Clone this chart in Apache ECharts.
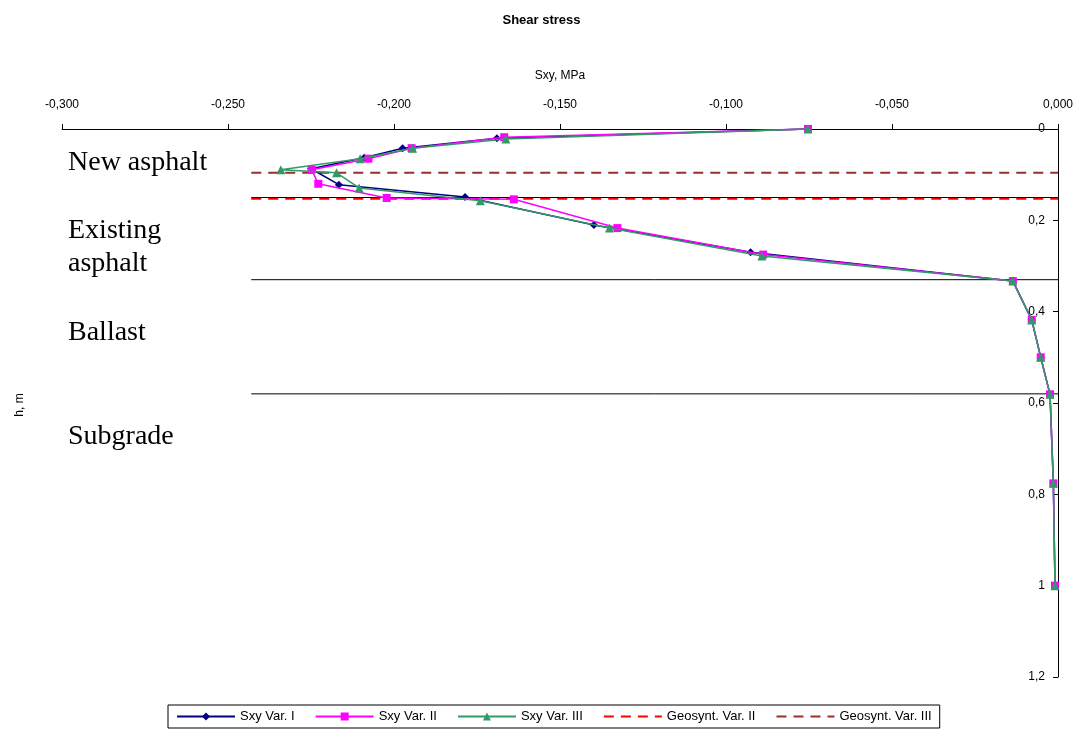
<!DOCTYPE html>
<html>
<head>
<meta charset="utf-8">
<script src="https://cdn.jsdelivr.net/npm/echarts@6/dist/echarts.min.js"></script>
<style>
  html, body { margin: 0; padding: 0; background: #fff; }
  #chart { width: 1083px; height: 732px; }
</style>
</head>
<body>
<div id="chart"></div>
<script>
// Depth below surface (m) and shear stress Sxy (MPa) for each variant
const depthVarI   = [0, 0.020, 0.042, 0.063, 0.087, 0.122, 0.149, 0.210, 0.270, 0.333, 0.418, 0.500, 0.581, 0.776, 1.000];
const stressVarI  = [-0.0753, -0.1690, -0.1974, -0.2090, -0.2250, -0.2166, -0.1786, -0.1398, -0.0926, -0.0136, -0.0079, -0.0052, -0.0024, -0.0014, -0.0009];

const depthVarII  = [0, 0.018, 0.042, 0.065, 0.089, 0.120, 0.151, 0.154, 0.217, 0.275, 0.333, 0.418, 0.500, 0.581, 0.776, 1.000];
const stressVarII = [-0.0753, -0.1668, -0.1947, -0.2077, -0.2248, -0.2228, -0.2022, -0.1639, -0.1327, -0.0888, -0.0136, -0.0079, -0.0052, -0.0024, -0.0014, -0.0009];

const depthVarIII  = [0, 0.022, 0.042, 0.065, 0.089, 0.096, 0.129, 0.157, 0.217, 0.278, 0.333, 0.418, 0.500, 0.581, 0.776, 1.000];
const stressVarIII = [-0.0753, -0.1663, -0.1944, -0.2102, -0.2341, -0.2173, -0.2105, -0.1740, -0.1351, -0.0892, -0.0136, -0.0079, -0.0052, -0.0024, -0.0014, -0.0009];

// Geosynthetic positions (m) and layer boundaries (m)
const geosyntVarII  = 0.153;
const geosyntVarIII = 0.096;
const layerBounds   = [0.15, 0.33, 0.58];
const lineSpan      = [-0.243, 0];  // horizontal extent of the reference lines (MPa)

// Layer captions and the pixel row each caption is centred on
const layerNames = ['New asphalt', 'Existing', 'asphalt', 'Ballast', 'Subgrade'];
const layerTextY = [159, 227, 260, 329, 433];

const seriesNames = ['Sxy Var. I', 'Sxy Var. II', 'Sxy Var. III', 'Geosynt. Var. II', 'Geosynt. Var. III'];

const pairs = (xs, hs) => hs.map((h, i) => [xs[i], h]);
const hLine = (h) => [[lineSpan[0], h], [lineSpan[1], h]];

const chart = echarts.init(document.getElementById('chart'));

const sansFont = 'Liberation Sans, Arial, sans-serif';

const layerSeries = layerBounds.map((h, i) => ({
  name: 'layer' + i,
  type: 'line',
  data: hLine(h),
  symbol: 'none',
  lineStyle: { color: '#000', width: 1 },
  z: 1,
  silent: true
}));

const option = {
  animation: false,
  backgroundColor: '#fff',
  title: {
    text: 'Shear stress',
    left: 'center',
    top: 9,
    textStyle: { fontFamily: sansFont, fontSize: 13, fontWeight: 'bold', color: '#000' }
  },
  grid: { left: 62, right: 25, top: 129, bottom: 55 },
  legend: {
    // dashed entries show only their line, no marker
    data: seriesNames.map((n, i) => i < 3 ? n : { name: n, itemStyle: { opacity: 0 } }),
    left: 168,
    top: 705,
    itemWidth: 58,
    itemHeight: 10,
    itemGap: 20,
    padding: [5, 8],
    borderColor: '#000',
    borderWidth: 1,
    textStyle: { fontFamily: sansFont, fontSize: 13, color: '#000' }
  },
  xAxis: {
    type: 'value',
    position: 'top',
    min: -0.3,
    max: 0,
    interval: 0.05,
    name: 'Sxy, MPa',
    nameLocation: 'middle',
    nameGap: 47,
    nameTextStyle: { fontFamily: sansFont, fontSize: 12, color: '#000' },
    axisLine: { show: true, onZero: false, lineStyle: { color: '#000', width: 1 } },
    axisTick: { show: true, length: 5, lineStyle: { color: '#000' } },
    axisLabel: {
      margin: 18,
      fontFamily: sansFont,
      fontSize: 12,
      color: '#000',
      formatter: v => v.toFixed(3).replace('.', ',')
    },
    splitLine: { show: false }
  },
  yAxis: {
    type: 'value',
    position: 'right',
    inverse: true,
    min: 0,
    max: 1.2,
    interval: 0.2,
    axisLine: { show: true, onZero: false, lineStyle: { color: '#000', width: 1 } },
    axisTick: { show: true, inside: true, length: 5, lineStyle: { color: '#000' } },
    axisLabel: {
      inside: true,
      margin: 13,
      fontFamily: sansFont,
      fontSize: 12,
      color: '#000',
      formatter: v => String(+v.toFixed(1)).replace('.', ',')
    },
    splitLine: { show: false }
  },
  graphic: [
    ...layerNames.map((t, i) => ({
      type: 'text',
      left: 68,
      top: layerTextY[i] - 10,
      style: {
        text: t,
        fontFamily: 'Liberation Serif, Times New Roman, serif',
        fontSize: 28,
        fill: '#000'
      },
      z: 10
    })),
    {
      type: 'text',
      x: 20,
      y: 405,
      rotation: Math.PI / 2,
      style: {
        text: 'h, m',
        fontFamily: sansFont,
        fontSize: 12,
        fill: '#000',
        align: 'center',
        verticalAlign: 'middle'
      }
    }
  ],
  series: [
    ...layerSeries,
    {
      name: seriesNames[3],
      type: 'line',
      data: hLine(geosyntVarII),
      symbol: 'none',
      lineStyle: { color: '#FF0000', width: 2, type: [10, 7] },
      itemStyle: { color: '#FF0000' },
      z: 2
    },
    {
      name: seriesNames[4],
      type: 'line',
      data: hLine(geosyntVarIII),
      symbol: 'none',
      lineStyle: { color: '#9C2E2E', width: 2, type: [10, 7] },
      itemStyle: { color: '#9C2E2E' },
      z: 2
    },
    {
      name: seriesNames[0],
      type: 'line',
      data: pairs(stressVarI, depthVarI),
      symbol: 'diamond',
      symbolSize: 8,
      clip: false,
      lineStyle: { color: '#000080', width: 1.5 },
      itemStyle: { color: '#000080' },
      z: 3
    },
    {
      name: seriesNames[1],
      type: 'line',
      data: pairs(stressVarII, depthVarII),
      symbol: 'rect',
      symbolSize: 8,
      clip: false,
      lineStyle: { color: '#FF00FF', width: 1.5 },
      itemStyle: { color: '#FF00FF' },
      z: 4
    },
    {
      name: seriesNames[2],
      type: 'line',
      data: pairs(stressVarIII, depthVarIII),
      symbol: 'triangle',
      symbolSize: 9,
      clip: false,
      lineStyle: { color: '#339966', width: 1.5 },
      itemStyle: { color: '#339966' },
      z: 5
    }
  ]
};

chart.setOption(option);
</script>
</body>
</html>
